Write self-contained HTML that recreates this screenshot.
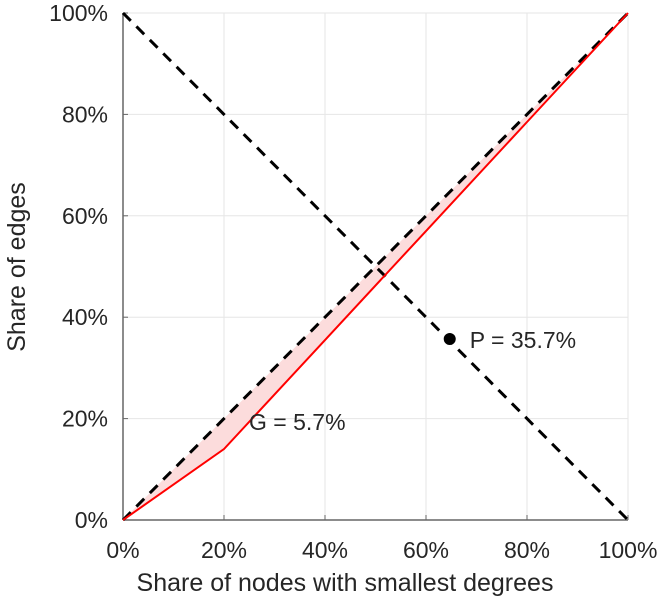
<!DOCTYPE html>
<html><head><meta charset="utf-8"><style>
body{margin:0;background:#fff;}
svg text{font-family:"Liberation Sans",sans-serif;fill:#262626;}
</style></head><body>
<svg id="chart" width="668" height="600" xmlns="http://www.w3.org/2000/svg">
<g id="grid"></g>
<path id="fill" fill="#fcdcdc" stroke="none"/>
<g id="axes"></g>
<path id="equal" fill="none" stroke="#000" stroke-width="3" stroke-dasharray="11,8"/>
<path id="anti" fill="none" stroke="#000" stroke-width="3" stroke-dasharray="11,8"/>
<path id="lorenz" fill="none" stroke="#f00" stroke-width="2"/>
<circle id="pt" r="6" fill="#000"/>
<text id="plabel" font-size="23">P = 35.7%</text>
<text id="glabel" font-size="23">G = 5.7%</text>
<text x="345" y="591" font-size="25" text-anchor="middle">Share of nodes with smallest degrees</text>
<text transform="translate(25,267) rotate(-90)" font-size="25" text-anchor="middle">Share of edges</text>
</svg>
<script>
const xs=[0,20,40,60,80,100];
const ys=[0,14,35.5,57,78.5,100];
const ticks=[0,20,40,60,80,100];
const tickLabels=["0%","20%","40%","60%","80%","100%"];
const pPoint=[64.7,35.7];
const X=v=>123+v*5.05, Y=v=>520-v*5.07;
const NS="http://www.w3.org/2000/svg";
const grid=document.getElementById('grid'),axes=document.getElementById('axes');
function mk(p,tag,a){const e=document.createElementNS(NS,tag);for(const k in a)e.setAttribute(k,a[k]);p.appendChild(e);return e;}
ticks.forEach((t,i)=>{
 let g=mk(grid,'line',{x1:X(t),x2:X(t),y1:Y(0),y2:Y(100),stroke:'#e6e6e6','stroke-width':1});
 
 
 g=mk(grid,'line',{x1:X(0),x2:X(100),y1:Y(t),y2:Y(t),stroke:'#e6e6e6','stroke-width':1});
 
 
 let tx=mk(axes,'text',{x:X(t),y:558,'font-size':23,'text-anchor':'middle'});tx.textContent=tickLabels[i];
 
 
 let ty=mk(axes,'text',{x:108,y:Y(t)+8,'font-size':23,'text-anchor':'end'});ty.textContent=tickLabels[i];
 
 
 let k=mk(axes,'line',{x1:X(t),x2:X(t),y1:Y(0),y2:Y(0)-5,stroke:'#666'});
 
 
 k=mk(axes,'line',{x1:X(0),x2:X(0)+5,y1:Y(t),y2:Y(t),stroke:'#666'});
 
 
});
let ax=mk(axes,'line',{x1:X(0),x2:X(100),y1:Y(0),y2:Y(0),stroke:'#666','stroke-width':1.5});


ax=mk(axes,'line',{x1:X(0),x2:X(0),y1:Y(0),y2:Y(100),stroke:'#666','stroke-width':1.5});


const pts=xs.map((x,i)=>X(x)+','+Y(ys[i]));
document.getElementById('lorenz').setAttribute('d','M'+pts.join('L'));
document.getElementById('fill').setAttribute('d','M'+pts.join('L')+'Z');
document.getElementById('equal').setAttribute('d',`M${X(0)},${Y(0)}L${X(100)},${Y(100)}`);
document.getElementById('anti').setAttribute('d',`M${X(0)},${Y(100)}L${X(100)},${Y(0)}`);
const c=document.getElementById('pt');c.setAttribute('cx',X(pPoint[0]));c.setAttribute('cy',Y(pPoint[1]));
const pl=document.getElementById('plabel');pl.setAttribute('x',X(pPoint[0])+20);pl.setAttribute('y',Y(pPoint[1])+9);
const gl=document.getElementById('glabel');gl.setAttribute('x',249);gl.setAttribute('y',430);
</script>
</body></html>
